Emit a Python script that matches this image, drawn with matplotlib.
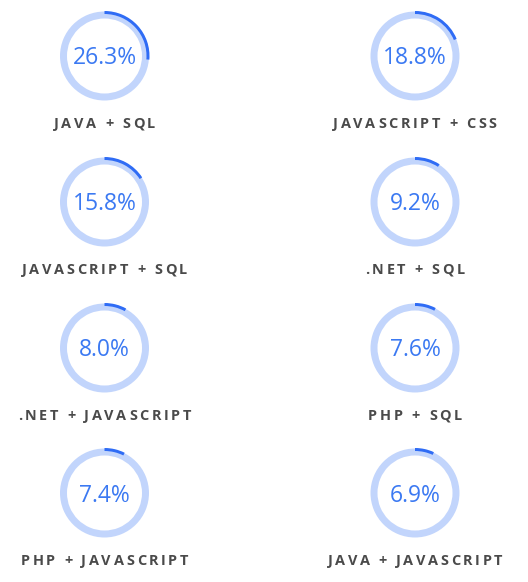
import matplotlib
matplotlib.use("Agg")
import matplotlib.pyplot as plt
from matplotlib.patches import Wedge
from matplotlib.font_manager import FontProperties, findfont
from matplotlib.ft2font import LOAD_NO_HINTING
from matplotlib.font_manager import get_font

# data
labels = ["JAVA + SQL", "JAVASCRIPT + CSS", "JAVASCRIPT + SQL", ".NET + SQL",
          ".NET + JAVASCRIPT", "PHP + SQL", "PHP + JAVASCRIPT", "JAVA + JAVASCRIPT"]
values = [26.3, 18.8, 15.8, 9.2, 8.0, 7.6, 7.4, 6.9]

W, H = 528, 582
col_x = [104.5, 415]
row_y = [56, 202, 348, 493]
label_dy = 67

ring_light = "#c2d5fc"
ring_dark = "#2f6cf5"
pct_color = "#3b79f2"
label_color = "#4a4a4a"


def spaced_text(ax, x, y, s, size_px, track, **kw):
    """draw text centred at x with extra letter spacing (px)"""
    fp = FontProperties(family="Open Sans", weight="bold")
    font = get_font(findfont(fp))
    font.set_size(size_px, 72)
    adv = [font.load_char(ord(c), flags=LOAD_NO_HINTING).linearHoriAdvance / 65536
           for c in s]
    total = sum(adv) + track * (len(s) - 1)
    pos = x - total / 2
    for c, a in zip(s, adv):
        ax.text(pos, y, c, ha="left", va="center", fontproperties=fp,
                fontsize=size_px * 0.72, **kw)
        pos += a + track


fig = plt.figure(figsize=(W / 100, H / 100), dpi=100)
ax = fig.add_axes([0, 0, 1, 1])
ax.set_xlim(0, W)
ax.set_ylim(0, H)
ax.set_aspect("equal")
ax.axis("off")

r_out = 45
for i, (lab, v) in enumerate(zip(labels, values)):
    cx = col_x[i % 2]
    cy = H - row_y[i // 2]
    ax.add_patch(Wedge((cx, cy), r_out - 0.5, 0, 360, width=7, color=ring_light, lw=0))
    ax.add_patch(Wedge((cx, cy), r_out, 90 - 360 * v / 100, 90, width=3,
                       color=ring_dark, lw=0))
    ax.text(cx, cy - 2.5, f"{v:.1f}%", ha="center", va="center", color=pct_color,
            fontsize=16.5, family="Open Sans")
    spaced_text(ax, cx, cy - label_dy - 1, lab, 14.5, 2.6, color=label_color)

fig.savefig("out.png", dpi=100)
